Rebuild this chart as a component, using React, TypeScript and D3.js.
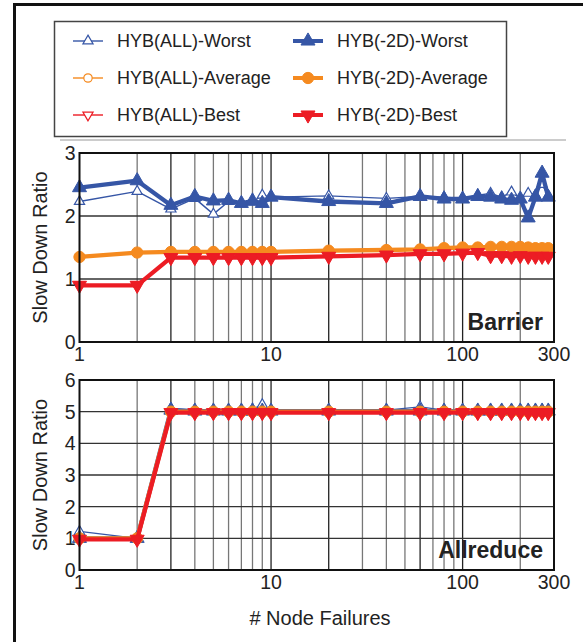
import React from "react";
import * as d3 from "d3";

const nodeFailures = [1, 2, 3, 4, 5, 6, 7, 8, 9, 10, 20, 40, 60, 80, 100, 120, 140, 160, 180, 200, 220, 240, 260, 280];

const barrierAllWorst = [2.23, 2.39, 2.11, 2.28, 2.03, 2.23, 2.2, 2.22, 2.33, 2.3, 2.32, 2.28, 2.31, 2.3, 2.28, 2.33, 2.36, 2.3, 2.38, 2.28, 2.36, 2.33, 2.5, 2.32];
const barrier2DWorst = [2.45, 2.56, 2.17, 2.31, 2.24, 2.25, 2.2, 2.24, 2.2, 2.3, 2.23, 2.2, 2.31, 2.27, 2.27, 2.31, 2.3, 2.27, 2.25, 2.27, 1.97, 2.3, 2.68, 2.3];
const barrierAllAvg = [1.35, 1.42, 1.43, 1.43, 1.43, 1.43, 1.44, 1.44, 1.44, 1.44, 1.46, 1.47, 1.48, 1.5, 1.5, 1.51, 1.51, 1.51, 1.51, 1.51, 1.5, 1.5, 1.49, 1.49];
const barrier2DAvg = [1.35, 1.42, 1.43, 1.43, 1.43, 1.43, 1.43, 1.43, 1.43, 1.43, 1.45, 1.46, 1.47, 1.49, 1.5, 1.5, 1.51, 1.51, 1.51, 1.51, 1.5, 1.49, 1.49, 1.49];
const barrierAllBest = [0.91, 0.91, 1.35, 1.35, 1.35, 1.35, 1.35, 1.35, 1.35, 1.35, 1.37, 1.38, 1.4, 1.41, 1.42, 1.43, 1.38, 1.38, 1.37, 1.38, 1.37, 1.37, 1.37, 1.37];
const barrier2DBest = [0.9, 0.9, 1.34, 1.34, 1.34, 1.34, 1.34, 1.34, 1.34, 1.34, 1.36, 1.38, 1.4, 1.4, 1.41, 1.42, 1.37, 1.37, 1.36, 1.37, 1.36, 1.36, 1.36, 1.36];

const allreduceAllWorst = [1.22, 1.0, 5.1, 5.05, 5.05, 5.05, 5.05, 5.08, 5.22, 5.05, 5.05, 5.05, 5.15, 5.05, 5.05, 5.05, 5.05, 5.05, 5.05, 5.05, 5.05, 5.05, 5.05, 5.05];
const allreduce2DWorst = [1.0, 1.0, 5.05, 5.02, 5.02, 5.02, 5.02, 5.02, 5.02, 5.02, 5.02, 5.02, 5.02, 5.02, 5.02, 5.02, 5.02, 5.02, 5.02, 5.02, 5.02, 5.02, 5.02, 5.02];
const allreduceAllAvg = [1.0, 1.0, 5.0, 5.0, 5.0, 5.0, 5.0, 5.0, 5.0, 5.0, 5.0, 5.0, 5.0, 5.0, 5.0, 5.0, 5.0, 5.0, 5.0, 5.0, 5.0, 5.0, 5.0, 5.0];
const allreduce2DAvg = [1.0, 1.0, 5.0, 5.0, 5.0, 5.0, 5.0, 5.0, 5.0, 5.0, 5.0, 5.0, 5.0, 5.0, 5.0, 5.0, 5.0, 5.0, 5.0, 5.0, 5.0, 5.0, 5.0, 5.0];
const allreduceAllBest = [0.97, 0.97, 4.97, 4.97, 4.97, 4.97, 4.97, 4.97, 4.97, 4.97, 4.97, 4.97, 4.97, 4.97, 4.97, 4.97, 4.97, 4.97, 4.97, 4.97, 4.97, 4.97, 4.97, 4.97];
const allreduce2DBest = [0.97, 0.97, 4.97, 4.97, 4.97, 4.97, 4.97, 4.97, 4.97, 4.97, 4.97, 4.97, 4.97, 4.97, 4.97, 4.97, 4.97, 4.97, 4.97, 4.97, 4.97, 4.97, 4.97, 4.97];

const xTickLabels = [1, 10, 100, 300];
const xGridValues = [2, 3, 4, 5, 6, 7, 8, 9, 10, 20, 30, 40, 50, 60, 70, 80, 90, 100, 200];
const barrierYTicks = [0, 1, 2, 3];
const allreduceYTicks = [0, 1, 2, 3, 4, 5, 6];

const seriesNames = [
  "HYB(ALL)-Worst", "HYB(ALL)-Average", "HYB(ALL)-Best",
  "HYB(-2D)-Worst", "HYB(-2D)-Average", "HYB(-2D)-Best",
];

const BLUE = "#3656a6";
const ORANGE = "#f58a1f";
const RED = "#ec1c24";
const FONT = "'Liberation Sans', Arial, Helvetica, sans-serif";

type Style = { color: string; thick: boolean; marker: "up" | "down" | "circle" };
const styles: Style[] = [
  { color: BLUE, thick: false, marker: "up" },
  { color: ORANGE, thick: false, marker: "circle" },
  { color: RED, thick: false, marker: "down" },
  { color: BLUE, thick: true, marker: "up" },
  { color: ORANGE, thick: true, marker: "circle" },
  { color: RED, thick: true, marker: "down" },
];

function markerPath(s: Style) {
  if (s.marker === "circle") {
    return d3.symbol().type(d3.symbolCircle).size(s.thick ? 100 : 55)();
  }
  return d3.symbol().type(d3.symbolTriangle).size(s.thick ? 85 : 45)();
}

function Marker({ s, x, y }: { s: Style; x: number; y: number }) {
  const rot = s.marker === "down" ? 180 : 0;
  return (
    <path
      d={markerPath(s) || ""}
      transform={`translate(${x},${y}) rotate(${rot})`}
      fill={s.thick ? s.color : "white"}
      stroke={s.color}
      strokeWidth={s.thick ? 1 : 1.2}
    />
  );
}

const xScaleFor = (l: number, r: number) => d3.scaleLog().domain([1, 300]).range([l, r]);

function Panel({
  top, bottom, yMax, yTicks, series, label,
}: {
  top: number; bottom: number; yMax: number; yTicks: number[]; series: number[][]; label: string;
}) {
  const left = 79.5;
  const right = 554;
  const x = xScaleFor(left, right);
  const y = d3.scaleLinear().domain([0, yMax]).range([bottom, top]);
  const line = d3.line<[number, number]>().x((d) => x(d[0])).y((d) => y(d[1]));
  return (
    <g>
      {xGridValues.map((v) => (
        <line key={"gx" + v} x1={x(v)} x2={x(v)} y1={top} y2={bottom}
          stroke={v === 10 || v === 100 || v === 3 || v === 20 || v === 60 ? "#222" : "#777"} strokeWidth={1.3} />
      ))}
      {yTicks.slice(1, -1).map((v) => (
        <line key={"gy" + v} x1={left} x2={right} y1={y(v)} y2={y(v)} stroke="#333" strokeWidth={1.3} />
      ))}
      {series.map((vals, i) => {
        const s = styles[i];
        const pts = nodeFailures.map((n, k) => [n, vals[k]] as [number, number]);
        return (
          <g key={"s" + i}>
            <path d={line(pts) || ""} fill="none" stroke={s.color} strokeWidth={s.thick ? 4.3 : 1.4} strokeLinejoin="round" />
            {pts.map((p, k) => (
              <Marker key={k} s={s} x={x(p[0])} y={y(p[1])} />
            ))}
          </g>
        );
      })}
      <rect x={left} y={top} width={right - left} height={bottom - top} fill="none" stroke="#111" strokeWidth={2} />
      {yTicks.map((v) => (
        <text key={"yt" + v} x={left - 4} y={y(v)} dy="0.36em" textAnchor="end" fontSize={19.5} fontFamily={FONT} fill="#222">{v}</text>
      ))}
      {xTickLabels.map((v) => (
        <text key={"xt" + v} x={x(v)} y={bottom + 19} textAnchor="middle" fontSize={19.5} fontFamily={FONT} fill="#222">{v}</text>
      ))}
      <text x={right - 11} y={bottom - 12} textAnchor="end" fontSize={23} fontWeight="bold" fontFamily={FONT} fill="#222">{label}</text>
      <text transform={`translate(40,${(top + bottom) / 2}) rotate(-90)`} textAnchor="middle" dy="0.35em" fontSize={20} fontFamily={FONT} fill="#222">Slow Down Ratio</text>
    </g>
  );
}

export default function App() {
  const legendRows = [41, 78, 115];
  return (
    <svg width={583} height={642} style={{ position: "absolute", left: 0, top: 0, background: "white" }}>
      <rect x={0} y={0} width={583} height={642} fill="white" />
      <path d="M14.5,660 L14.5,4.5 L600,4.5" fill="none" stroke="#111" strokeWidth={3} />
      <rect x={54.5} y={21.5} width={452} height={115} fill="white" stroke="#444" strokeWidth={1.5} />
      {seriesNames.map((name, i) => {
        const col = i < 3 ? 0 : 1;
        const row = i % 3;
        const lx = col === 0 ? 73 : 293;
        const ly = legendRows[row];
        const s = styles[i];
        return (
          <g key={name}>
            <line x1={lx} x2={lx + 30} y1={ly} y2={ly} stroke={s.color} strokeWidth={s.thick ? 4 : 1.4} />
            <Marker s={s} x={lx + 15} y={ly} />
            <text x={lx + 44} y={ly} dy="0.35em" fontSize={18} fontFamily={FONT} fill="#222">{name}</text>
          </g>
        );
      })}
      <line x1={60} x2={566} y1={140} y2={140} stroke="#bbb" strokeWidth={1.5} />
      <Panel top={153} bottom={342} yMax={3} yTicks={barrierYTicks} label="Barrier"
        series={[barrierAllWorst, barrierAllAvg, barrierAllBest, barrier2DWorst, barrier2DAvg, barrier2DBest]} />
      <Panel top={380} bottom={570} yMax={6} yTicks={allreduceYTicks} label="Allreduce"
        series={[allreduceAllWorst, allreduceAllAvg, allreduceAllBest, allreduce2DWorst, allreduce2DAvg, allreduce2DBest]} />
      <text x={320} y={625} textAnchor="middle" fontSize={20} fontFamily={FONT} fill="#222"># Node Failures</text>
    </svg>
  );
}
